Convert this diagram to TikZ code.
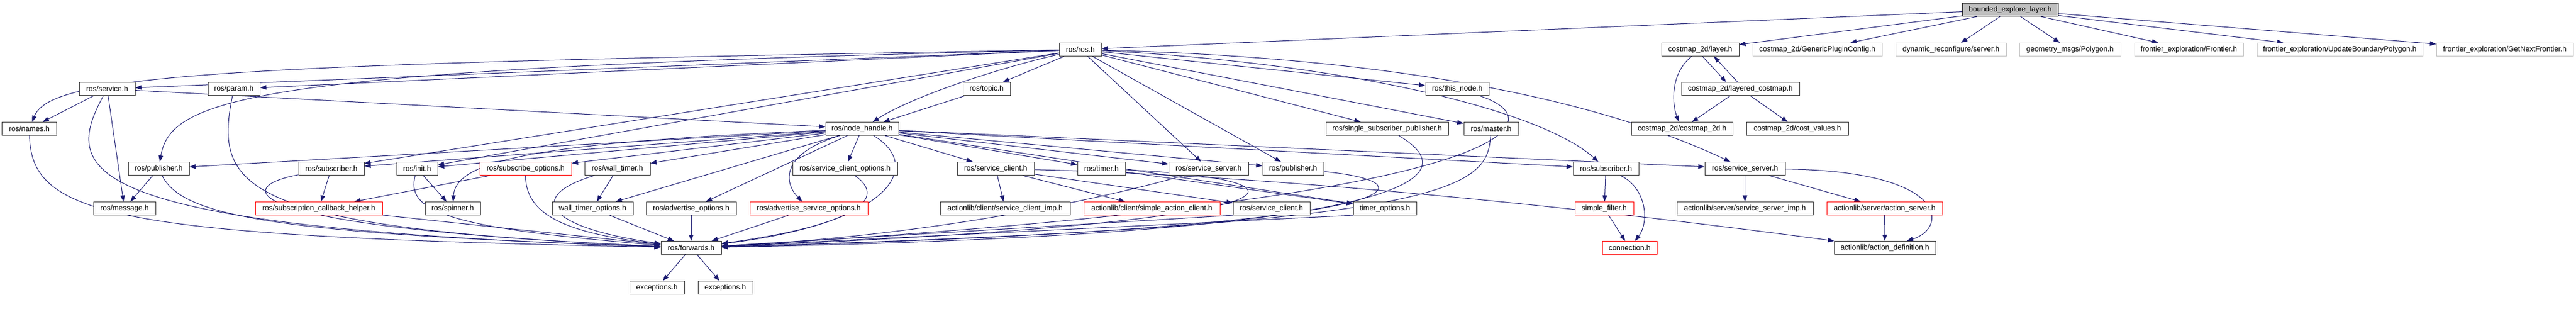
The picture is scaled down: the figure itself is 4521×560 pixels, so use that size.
\documentclass[tikz,border=0pt]{standalone}
\usepackage{fontspec}
\setmainfont{Liberation Sans}
\usetikzlibrary{arrows.meta,backgrounds}
\definecolor{edgeblue}{HTML}{191970}
\definecolor{nodegray}{HTML}{BFBFBF}
\begin{document}
\begin{tikzpicture}[x=1bp,y=-1bp,
  nb/.style={draw=black!80, line width=1bp, fill=white, inner sep=0pt, minimum height=23bp, font=\fontsize{13}{15}\selectfont},
  rb/.style={nb, draw=red},
  gb/.style={nb, draw=nodegray},
  mb/.style={nb, fill=nodegray, draw=black},
  edg/.style={draw=edgeblue, line width=1bp, -{Triangle[length=11bp,width=8bp]}}]
\useasboundingbox (0,0) rectangle (4521,560);
% row 0
\node[mb, minimum width=168bp] (bel) at (3528,17) {bounded\_explore\_layer.h};
% row 1
\node[nb, minimum width=74bp] (ros) at (1896,87) {ros/ros.h};
\node[nb, minimum width=136bp] (layer) at (2984,87) {costmap\_2d/layer.h};
\node[gb, minimum width=227bp] (gpc) at (3189.5,87) {costmap\_2d/GenericPluginConfig.h};
\node[gb, minimum width=194bp] (dyn) at (3424,87) {dynamic\_reconfigure/server.h};
\node[gb, minimum width=178bp] (poly) at (3633,87) {geometry\_msgs/Polygon.h};
\node[gb, minimum width=191bp] (fr) at (3841.5,87) {frontier\_exploration/Frontier.h};
\node[gb, minimum width=291bp] (ubp) at (4106.5,87) {frontier\_exploration/UpdateBoundaryPolygon.h};
\node[gb, minimum width=240bp] (gnf) at (4396,87) {frontier\_exploration/GetNextFrontier.h};
% row 2
\node[nb, minimum width=98bp] (service) at (188,156) {ros/service.h};
\node[nb, minimum width=91bp] (param) at (410.5,156) {ros/param.h};
\node[nb, minimum width=83bp] (topic) at (1731.5,156) {ros/topic.h};
\node[nb, minimum width=111bp] (thisnode) at (2557.5,156) {ros/this\_node.h};
\node[nb, minimum width=207bp] (lcm) at (3054.5,156) {costmap\_2d/layered\_costmap.h};
% row 3
\node[nb, minimum width=95bp] (names) at (51.5,226) {ros/names.h};
\node[nb, minimum width=128bp] (nh) at (1513,226) {ros/node\_handle.h};
\node[nb, minimum width=215bp] (ssp) at (2434.5,226) {ros/single\_subscriber\_publisher.h};
\node[nb, minimum width=96bp] (master) at (2617,226) {ros/master.h};
\node[nb, minimum width=178bp] (cm2d) at (2952,226) {costmap\_2d/costmap\_2d.h};
\node[nb, minimum width=179bp] (cv) at (3154.5,226) {costmap\_2d/cost\_values.h};
% row 4
\node[nb, minimum width=107bp] (pubL) at (278.5,296) {ros/publisher.h};
\node[nb, minimum width=115bp] (subL) at (581.5,296) {ros/subscriber.h};
\node[nb, minimum width=72bp] (init) at (732,296) {ros/init.h};
\node[rb, minimum width=161bp] (subopt) at (922.5,296) {ros/subscribe\_options.h};
\node[nb, minimum width=115bp] (wt) at (1083.5,296) {ros/wall\_timer.h};
\node[nb, minimum width=184bp] (sco) at (1483,296) {ros/service\_client\_options.h};
\node[nb, minimum width=135bp] (scl4) at (1747.5,296) {ros/service\_client.h};
\node[nb, minimum width=84bp] (timer) at (1933,296) {ros/timer.h};
\node[nb, minimum width=140bp] (ssL) at (2121,296) {ros/service\_server.h};
\node[nb, minimum width=107bp] (pubR) at (2269.5,296) {ros/publisher.h};
\node[nb, minimum width=115bp] (subR) at (2818.5,296) {ros/subscriber.h};
\node[nb, minimum width=141bp] (ssR) at (3062.5,296) {ros/service\_server.h};
% row 5
\node[nb, minimum width=109bp] (msg) at (218.5,366) {ros/message.h};
\node[rb, minimum width=223bp] (sch) at (559.5,366) {ros/subscription\_callback\_helper.h};
\node[nb, minimum width=97bp] (spin) at (794.5,366) {ros/spinner.h};
\node[nb, minimum width=142bp] (wto) at (1040,366) {wall\_timer\_options.h};
\node[nb, minimum width=158bp] (ao) at (1213,366) {ros/advertise\_options.h};
\node[rb, minimum width=207bp] (aso) at (1419.5,366) {ros/advertise\_service\_options.h};
\node[nb, minimum width=228bp] (sci) at (1764,366) {actionlib/client/service\_client\_imp.h};
\node[rb, minimum width=239bp] (sac) at (2021.5,366) {actionlib/client/simple\_action\_client.h};
\node[nb, minimum width=135bp] (scl5) at (2231.5,366) {ros/service\_client.h};
\node[nb, minimum width=111bp] (to) at (2430.5,366) {timer\_options.h};
\node[rb, minimum width=103bp] (sf) at (2815.5,366) {simple\_filter.h};
\node[nb, minimum width=239bp] (ssi) at (3062.5,366) {actionlib/server/service\_server\_imp.h};
\node[rb, minimum width=203bp] (as) at (3307.5,366) {actionlib/server/action\_server.h};
% row 6
\node[nb, minimum width=106bp] (fwd) at (1213,435) {ros/forwards.h};
\node[rb, minimum width=96bp] (conn) at (2860,435) {connection.h};
\node[nb, minimum width=178bp] (ad) at (3308,435) {actionlib/action\_definition.h};
% row 7
\node[nb, minimum width=96bp] (ex1) at (1153,505) {exceptions.h};
\node[nb, minimum width=96bp] (ex2) at (1273,505) {exceptions.h};

\begin{pgfonlayer}{background}
% bounded_explore_layer
\draw[edg] (bel) -- (ros);
\draw[edg] (bel) -- (layer);
\draw[edg] (bel) -- (gpc);
\draw[edg] (bel) -- (dyn);
\draw[edg] (bel) -- (poly);
\draw[edg] (bel) -- (fr);
\draw[edg] (bel) -- (ubp);
\draw[edg] (bel) -- (gnf);
% costmap
\draw[edg] (layer) .. controls (2930,130) and (2935,185) .. (cm2d);
\draw[edg] ([xshift=4bp]layer.south) -- ([xshift=-25bp]lcm.north);
\draw[edg] ([xshift=-5bp]lcm.north) -- ([xshift=24bp]layer.south);
\draw[edg] (lcm) -- (cm2d);
\draw[edg] (lcm) -- (cv);
% ros.h
\draw[edg] (ros) .. controls (400,112) and (90,130) .. (names);
\draw[edg] (ros) -- (service);
\draw[edg] (ros) -- (param);
\draw[edg] (ros) .. controls (450,120) and (300,170) .. (pubL);
\draw[edg] (ros) -- (subL);
\draw[edg] (ros) -- (init);
\draw[edg] (ros) .. controls (1750,120) and (1600,170) .. (nh);
\draw[edg] (ros) -- (topic);
\draw[edg] (ros) -- (ssL);
\draw[edg] (ros) -- (pubR);
\draw[edg] (ros) -- (thisnode);
\draw[edg] (ros) -- (ssp);
\draw[edg] (ros) -- (master);
\draw[edg] (ros) .. controls (2350,110) and (2700,190) .. (subR);
\draw[edg] (ros) .. controls (2600,105) and (2900,220) .. (ssR);
% topic
\draw[edg] (topic) -- (nh);
% service
\draw[edg] (service) -- (names);
\draw[edg] (service) -- (msg);
\draw[edg] (service) -- (nh);
\draw[edg] (service) .. controls (110,300) and (120,400) .. (fwd);
% left part to forwards
\draw[edg] (names) .. controls (55,380) and (200,415) .. (fwd);
\draw[edg] (param) .. controls (375,330) and (420,400) .. (fwd);
\draw[edg] (pubL) -- (msg);
\draw[edg] (pubL) .. controls (320,380) and (480,410) .. (fwd);
\draw[edg] (subL) -- (sch);
\draw[edg] (subL) .. controls (400,330) and (420,400) .. (fwd);
\draw[edg] (sch) -- (fwd);
\draw[edg] (init) -- (spin);
\draw[edg] (init) .. controls (712,370) and (780,400) .. (fwd);
\draw[edg] (subopt) -- (sch);
\draw[edg] (subopt) .. controls (922,380) and (1000,410) .. (fwd);
\draw[edg] (wt) -- (wto);
\draw[edg] (wt) .. controls (920,345) and (960,400) .. (fwd);
\draw[edg] (wto) -- (fwd);
\draw[edg] (ao) -- (fwd);
\draw[edg] (aso) -- (fwd);
\draw[edg] (sco) .. controls (1560,350) and (1500,395) .. (fwd);
% node_handle
\draw[edg] (nh) .. controls (1620,290) and (1570,390) .. (fwd);
\draw[edg] (nh) -- (pubL);
\draw[edg] (nh) -- (subL);
\draw[edg] (nh) -- (init);
\draw[edg] (nh) .. controls (950,250) and (800,280) .. (spin);
\draw[edg] (nh) -- (subopt);
\draw[edg] (nh) -- (wt);
\draw[edg] (nh) -- (wto);
\draw[edg] (nh) -- (ao);
\draw[edg] (nh) .. controls (1370,270) and (1375,320) .. (aso);
\draw[edg] (nh) -- (sco);
\draw[edg] (nh) -- (scl4);
\draw[edg] (nh) -- (timer);
\draw[edg] (nh) -- (to);
\draw[edg] (nh) -- (ssL);
\draw[edg] (nh) -- (pubR);
\draw[edg] (nh) -- (subR);
\draw[edg] (nh) -- (ssR);
% service client
\draw[edg] (scl4) -- (sci);
\draw[edg] (scl4) -- (sac);
\draw[edg] (scl4) -- (scl5);
\draw[edg] (scl4) .. controls (2300,310) and (2900,380) .. (ad);
\draw[edg] (scl5.south west) -- (fwd);
% right part to forwards
\draw[edg] (timer) -- (to);
\draw[edg] (timer) .. controls (2330,315) and (2340,390) .. (fwd);
\draw[edg] (ssL) .. controls (2000,330) and (1700,410) .. (fwd);
\draw[edg] (pubR) .. controls (2520,320) and (2520,400) .. (fwd);
\draw[edg] (ssp) .. controls (2560,300) and (2560,410) .. (fwd);
\draw[edg] (thisnode) .. controls (2730,210) and (2700,350) .. (fwd);
\draw[edg] (master) .. controls (2610,330) and (2560,395) .. (fwd);
\draw[edg] (to.south west) -- (fwd);
% subscriber right
\draw[edg] (subR) -- (sf);
\draw[edg] (subR) .. controls (2890,330) and (2895,390) .. (conn);
\draw[edg] (sf) -- (conn);
% service server right
\draw[edg] (ssR) -- (ssi);
\draw[edg] (ssR) -- (as);
\draw[edg] (ssR) .. controls (3420,300) and (3420,400) .. (ad);
\draw[edg] (as) -- (ad);
% forwards
\draw[edg] (fwd) -- (ex1);
\draw[edg] (fwd) -- (ex2);
\end{pgfonlayer}
\end{tikzpicture}
\end{document}
